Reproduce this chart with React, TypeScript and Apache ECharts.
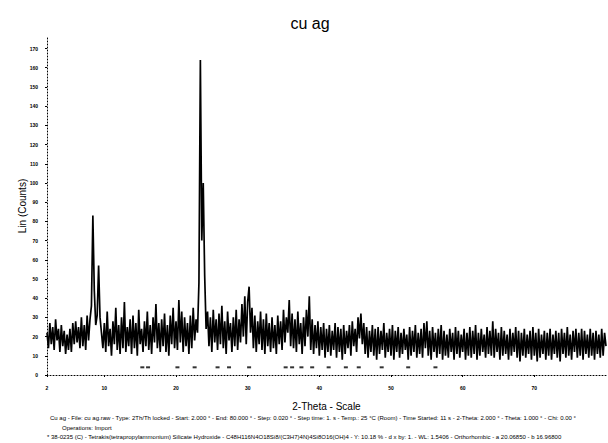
import React, { useEffect, useRef } from "react";
import * as echarts from "echarts";

// 2-Theta scan: 2.0° to 80.0°, sampled here every 0.2°
const startAngle = 2;
const angleStep = 0.2;
const counts: number[] = [
  22, 14, 27, 16, 25, 13, 29, 18, 24, 12,
  26, 15, 23, 11, 21, 13, 24, 12, 27, 16,
  28, 17, 25, 14, 30, 15, 26, 13, 31, 18,
  29, 36, 83, 44, 26, 31, 57, 30, 22, 14,
  27, 12, 33, 15, 24, 10, 28, 16, 35, 13,
  26, 11, 30, 14, 38, 12, 25, 15, 29, 11,
  31, 14, 27, 10, 34, 16, 24, 12, 28, 15,
  33, 13, 26, 11, 30, 17, 37, 14, 27, 12,
  29, 15, 32, 12, 26, 10, 31, 16, 35, 14,
  28, 13, 39, 17, 33, 12, 30, 15, 27, 11,
  31, 14, 35, 18, 29, 22, 48, 164, 70, 100,
  52, 24, 33, 15, 30, 12, 34, 17, 29, 13,
  32, 16, 36, 14, 28, 11, 33, 18, 27, 12,
  30, 15, 34, 13, 29, 17, 37, 20, 41, 16,
  38, 46, 22, 35, 14, 31, 12, 28, 16, 33,
  13, 29, 11, 32, 15, 27, 12, 30, 14, 26,
  11, 31, 16, 28, 13, 34, 17, 30, 22, 39,
  15, 32, 14, 29, 12, 33, 16, 27, 11, 30,
  15, 34, 20, 41, 13, 29, 11, 26, 14, 28,
  10, 25, 13, 27, 9, 24, 12, 26, 10, 23,
  13, 27, 9, 25, 12, 24, 8, 26, 11, 23,
  14, 26, 10, 28, 15, 24, 12, 30, 19, 32,
  16, 27, 11, 25, 9, 23, 12, 26, 10, 24,
  8, 25, 11, 23, 13, 27, 9, 22, 12, 24,
  10, 26, 8, 23, 12, 25, 9, 22, 11, 24,
  13, 21, 8, 25, 10, 23, 12, 26, 9, 22,
  11, 24, 9, 27, 14, 28, 10, 23, 8, 25,
  12, 22, 9, 24, 11, 26, 8, 23, 10, 21,
  9, 24, 12, 22, 8, 25, 11, 23, 9, 21,
  12, 24, 8, 22, 10, 25, 9, 23, 11, 26,
  8, 22, 10, 24, 12, 21, 9, 25, 11, 23,
  10, 28, 9, 24, 12, 22, 8, 25, 10, 23,
  11, 21, 8, 24, 10, 22, 12, 25, 9, 23,
  7, 22, 10, 24, 9, 21, 11, 23, 8, 25,
  10, 22, 7, 24, 9, 21, 11, 23, 8, 22,
  10, 24, 8, 21, 11, 23, 9, 22, 7, 24,
  11, 22, 9, 25, 10, 21, 8, 23, 12, 24,
  9, 22, 10, 24, 8, 23, 11, 21, 9, 24,
  10, 22, 8, 23, 11, 21, 9, 24, 10, 22,
  15,
];

// reference card markers (PDF 38-0235)
const refAngles = [15.3, 16.1, 20.2, 22.6, 25.8, 27.4, 30.2, 35.3, 36.2, 37.5, 39.0, 41.3, 43.7, 45.5, 48.7, 52.4, 56.2];
const refLevel = 4;

const xTickLabels = [2, 10, 20, 30, 40, 50, 60, 70];
const yMax = 176;

const titleText = "cu ag";
const xName = "2-Theta - Scale";
const yName = "Lin (Counts)";
const footer1 =
  "Cu ag - File: cu ag.raw - Type: 2Th/Th locked - Start: 2.000 ° - End: 80.000 ° - Step: 0.020 ° - Step time: 1. s - Temp.: 25 °C (Room) - Time Started: 11 s - 2-Theta: 2.000 ° - Theta: 1.000 ° - Chi: 0.00 °";
const footer2 = "Operations: Import";
const footer3 =
  "38-0235 (C) - Tetrakis(tetrapropylammonium) Silicate Hydroxide - C48H116N4O18Si8/(C3H7)4N)4Si8O16(OH)4 - Y: 10.18 % - d x by: 1. - WL: 1.5406 - Orthorhombic - a 20.06850 - b 16.96800";

export default function App() {
  const ref = useRef<HTMLDivElement>(null);
  useEffect(() => {
    if (!ref.current) return;
    const chart = echarts.init(ref.current, undefined, { renderer: "svg" });
    const lineData = counts.map((c, i) => [+(startAngle + i * angleStep).toFixed(2), c]);
    const refData = refAngles.map((a) => [a, refLevel]);
    const font = "'Liberation Sans', Arial, sans-serif";
    chart.setOption({
      animation: false,
      backgroundColor: "#fff",
      title: {
        text: titleText,
        left: 305,
        textAlign: "center",
        top: 10,
        textStyle: { fontFamily: font, fontSize: 16, fontWeight: "normal", color: "#000" },
      },
      grid: { left: 47, right: 2, top: 37, bottom: 68 },
      xAxis: {
        type: "value",
        min: 2,
        max: 80,
        name: xName,
        nameLocation: "middle",
        nameGap: 26,
        nameTextStyle: { fontFamily: font, fontSize: 10, color: "#000" },
        axisLine: { show: true, lineStyle: { color: "#000", width: 1, type: [1, 2] } },
        axisTick: { show: true, length: 2, customValues: xTickLabels, lineStyle: { color: "#000" } },
        axisLabel: {
          customValues: xTickLabels,
          fontFamily: font,
          fontSize: 5,
          fontWeight: "bold",
          color: "#000",
          margin: 10,
        },
        splitLine: { show: false },
      },
      yAxis: {
        type: "value",
        min: 0,
        max: yMax,
        interval: 10,
        name: yName,
        nameLocation: "middle",
        nameGap: 20,
        nameMoveOverlap: false,
        nameTextStyle: { fontFamily: font, fontSize: 10, color: "#000" },
        axisLine: { show: true, lineStyle: { color: "#000", width: 1, type: [1, 2] } },
        axisTick: { show: true, length: 2, lineStyle: { color: "#000" } },
        axisLabel: {
          fontFamily: font,
          fontSize: 5,
          fontWeight: "bold",
          color: "#000",
          margin: 9,
          showMaxLabel: false,
        },
        splitLine: { show: false },
      },
      series: [
        {
          type: "line",
          data: lineData,
          showSymbol: false,
          sampling: "none",
          lineStyle: { color: "#000", width: 1.7 },
          silent: true,
        },
        {
          type: "scatter",
          data: refData,
          symbol: "rect",
          symbolSize: [4, 2],
          itemStyle: { color: "#000" },
          silent: true,
        },
      ],
      graphic: [
        {
          type: "text",
          left: 50,
          top: 415,
          style: { text: footer1, fontFamily: font, fontSize: 6, fill: "#000" },
        },
        {
          type: "text",
          left: 62,
          top: 425,
          style: { text: footer2, fontFamily: font, fontSize: 6, fill: "#000" },
        },
        {
          type: "text",
          left: 47,
          top: 434,
          style: { text: "* " + footer3, fontFamily: font, fontSize: 6, fill: "#000" },
        },
      ],
    });
    return () => chart.dispose();
  }, []);
  return (
    <div
      ref={ref}
      style={{ position: "fixed", left: 0, top: 0, width: 608, height: 443, background: "#fff" }}
    />
  );
}
